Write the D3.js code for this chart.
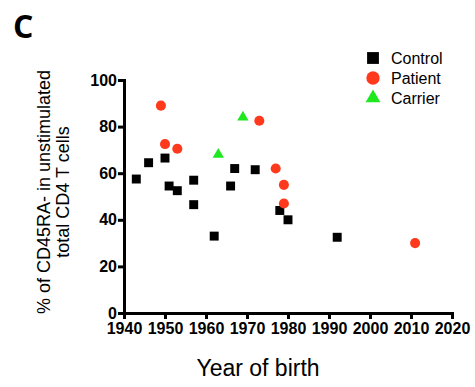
<!DOCTYPE html>
<html>
<head>
<meta charset="utf-8">
<script src="https://cdn.jsdelivr.net/npm/d3@7"></script>
<style>
  body { margin: 0; background: #fff; }
  svg { display: block; }
  .axis path, .axis line { stroke: #000; stroke-width: 3; }
  .axis text { font-family: "Liberation Sans", Arial, sans-serif; font-weight: bold; font-size: 16px; fill: #000; }
</style>
</head>
<body>
<svg width="475" height="387"></svg>
<script>
const controlYears = [1943, 1946, 1950, 1951, 1953, 1957, 1957, 1962, 1966, 1967, 1972, 1978, 1980, 1992];
const controlValues = [57.5, 64.5, 66.5, 54.5, 52.5, 57, 46.5, 33, 54.5, 62, 61.5, 44, 40, 32.5];
const patientYears = [1949, 1950, 1953, 1973, 1977, 1979, 1979, 2011];
const patientValues = [89, 72.5, 70.5, 82.5, 62, 55, 47, 30];
const carrierYears = [1963, 1969];
const carrierValues = [68, 84];

const xTicks = [1940, 1950, 1960, 1970, 1980, 1990, 2000, 2010, 2020];
const yTicks = [0, 20, 40, 60, 80, 100];

const groups = [
  { name: "Control", years: controlYears, values: controlValues, symbol: d3.symbolSquare, color: "#000000" },
  { name: "Patient", years: patientYears, values: patientValues, symbol: d3.symbolCircle, color: "#ff3a1c" },
  { name: "Carrier", years: carrierYears, values: carrierValues, symbol: d3.symbolTriangle, color: "#1ee81e" }
];

const svg = d3.select("svg");

const x = d3.scaleLinear().domain([1940, 2020]).range([124, 452]);
const y = d3.scaleLinear().domain([0, 100]).range([313, 80]);

// panel letter
svg.append("text")
  .attr("x", 13)
  .attr("y", 38)
  .attr("font-family", "'Open Sans', sans-serif")
  .attr("font-weight", "bold")
  .attr("font-size", 32)
  .text("C");

svg.append("g")
  .attr("class", "axis")
  .attr("transform", `translate(0,${y(0)})`)
  .call(d3.axisBottom(x).tickValues(xTicks).tickFormat(d3.format("d")).tickSize(6).tickSizeOuter(0).tickPadding(4))
  .call(g => g.select(".domain").attr("stroke-linecap", "square"));

svg.append("g")
  .attr("class", "axis")
  .attr("transform", `translate(${x(1940)},0)`)
  .call(d3.axisLeft(y).tickValues(yTicks).tickSize(6).tickSizeOuter(0).tickPadding(1))
  .call(g => g.select(".domain").attr("stroke-linecap", "square"));

// points
groups.forEach(grp => {
  const pts = grp.years.map((yr, i) => ({ year: yr, value: grp.values[i] }));
  svg.append("g")
    .selectAll("path")
    .data(pts)
    .enter()
    .append("path")
    .attr("transform", d => `translate(${x(d.year)},${y(d.value)})`)
    .attr("d", d3.symbol().type(grp.symbol).size(grp.symbol === d3.symbolTriangle ? 55 : 80))
    .attr("fill", grp.color);
});

// axis titles
const yTitle = svg.append("text")
  .attr("transform", "translate(50,192) rotate(-90)")
  .attr("text-anchor", "middle")
  .attr("font-family", "'Liberation Sans', Arial, sans-serif")
  .attr("font-size", 18);
yTitle.append("tspan").attr("x", 0).attr("dy", 0).text("% of CD45RA- in unstimulated");
yTitle.append("tspan").attr("x", 0).attr("dy", 19).text("total CD4 T cells");

svg.append("text")
  .attr("x", 258)
  .attr("y", 376)
  .attr("text-anchor", "middle")
  .attr("font-family", "'Liberation Sans', Arial, sans-serif")
  .attr("font-size", 23)
  .text("Year of birth");

// legend
const legend = svg.append("g");
groups.forEach((grp, i) => {
  const ly = 58 + i * 20;
  legend.append("path")
    .attr("transform", `translate(373,${ly})`)
    .attr("d", d3.symbol().type(grp.symbol).size(grp.symbol === d3.symbolTriangle ? 95 : 140))
    .attr("fill", grp.color);
  legend.append("text")
    .attr("x", 391)
    .attr("y", ly + 6)
    .attr("font-family", "'Liberation Sans', Arial, sans-serif")
    .attr("font-size", 16)
    .text(grp.name);
});
</script>
</body>
</html>
